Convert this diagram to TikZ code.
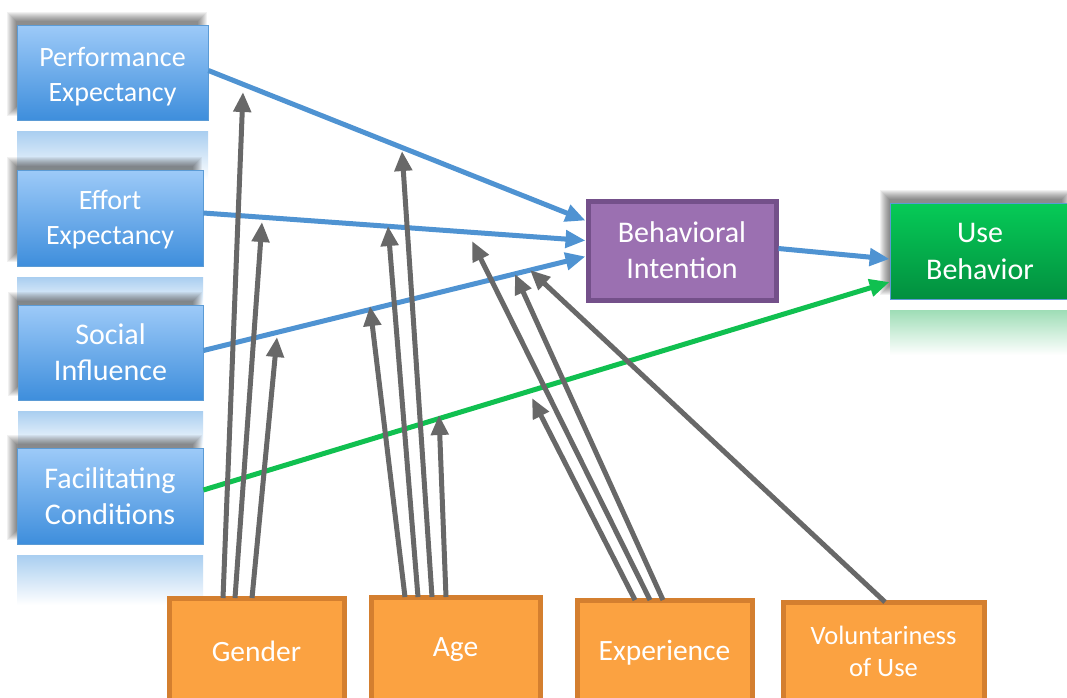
\documentclass[tikz,border=0pt]{standalone}
\usepackage{fontspec}
\setmainfont{Carlito}
\usetikzlibrary{arrows.meta,backgrounds}
\definecolor{bluetop}{HTML}{9DCAF8}
\definecolor{bluebot}{HTML}{3E8EDC}
\definecolor{blueedge}{HTML}{5B9BD5}
\definecolor{bluearrow}{HTML}{4F93D2}
\definecolor{grayarrow}{HTML}{686868}
\definecolor{greenarrow}{HTML}{10C050}
\definecolor{purplefill}{HTML}{9B70B1}
\definecolor{purpleedge}{HTML}{74508A}
\definecolor{orangefill}{HTML}{FBA241}
\definecolor{orangeedge}{HTML}{D47F2F}
\definecolor{greentop}{HTML}{06CB57}
\definecolor{greenbot}{HTML}{028F3F}
\definecolor{reflblue}{HTML}{A9CEF0}
\definecolor{reflgreen}{HTML}{9EDDB6}
\newcommand\myshadow[4]{%
  \foreach \k in {0,...,9}{%
    \fill[black,opacity=0.055] (#1+\k-4,#2+\k-4) rectangle (#3-\k+4,#4-\k+4);}}
\newcommand\shiftline[2]{\raisebox{#1}[\height][\depth]{#2}}
\begin{document}
\begin{tikzpicture}[x=1pt,y=-1pt,
  bluebox/.style={draw=blueedge,line width=0.8pt,top color=bluetop,bottom color=bluebot,
    text=white,align=center,inner sep=0pt,font=\fontsize{30}{36}\selectfont},
  orangebox/.style={draw=orangeedge,line width=5pt,fill=orangefill,text=white,align=center,
    inner sep=0pt,minimum height=105pt,font=\fontsize{29.5}{32}\selectfont},
  blueline/.style={draw=bluearrow,line width=5pt,-{Triangle[length=20pt,width=17pt]}},
  greenline/.style={draw=greenarrow,line width=5pt,-{Triangle[length=20pt,width=17pt]}},
  grayline/.style={draw=grayarrow,line width=5pt,-{Triangle[length=20pt,width=17pt]}},
  refl/.style={top color=#1,bottom color=white,draw=none}
]
\useasboundingbox (0,0) rectangle (1067,697);
\fill[white] (0,0) rectangle (1067,697);

% reflections
\shade[refl=reflblue] (17,131) rectangle (208,180);
\shade[refl=reflblue] (17,277) rectangle (203,310);
\shade[refl=reflblue] (18,411) rectangle (203,450);
\shade[refl=reflblue] (17,555) rectangle (203,605);
\shade[refl=reflgreen] (890,310) rectangle (1067,355);

% shadows
\myshadow{11}{16}{203}{112}
\myshadow{11}{161}{198}{258}
\myshadow{12}{296}{198}{392}
\myshadow{11}{439}{198}{536}
\myshadow{884}{194}{1067}{291}

% nodes
\node[bluebox,minimum width=191pt,minimum height=95pt,font=\fontsize{28}{35}\selectfont] (pe) at (112.5,72.5) {\shiftline{-4pt}{Performance}\\\shiftline{-4pt}{Expectancy}};
\node[bluebox,minimum width=186pt,minimum height=96pt,font=\fontsize{28}{35}\selectfont] (ee) at (110,218) {\shiftline{-2pt}{Effort}\\\shiftline{-2pt}{Expectancy}};
\node[bluebox,minimum width=185pt,minimum height=95pt] (si) at (110.5,352.5) {Social\\Influence};
\node[bluebox,minimum width=186pt,minimum height=96pt] (fc) at (110,496) {Facilitating\\Conditions};

\node[draw=purpleedge,line width=5pt,fill=purplefill,text=white,align=center,inner sep=0pt,
  minimum width=188pt,minimum height=99pt,font=\fontsize{30}{36}\selectfont] (bi) at (682,250.5) {Behavioral\\Intention};
\node[draw=blueedge,line width=0.8pt,top color=greentop,bottom color=greenbot,text=white,align=center,
  inner sep=0pt,minimum width=180pt,minimum height=96pt,font=\fontsize{30}{37}\selectfont] (ub) at (980,251) {Use\\Behavior};

\node[orangebox,minimum width=175pt] (gen) at (256.5,651) {Gender};
\node[orangebox,minimum width=169pt] (age) at (455.5,650) {Age};
\node[orangebox,minimum width=175pt] (exp) at (664.5,653) {Experience};
\node[orangebox,minimum width=201pt,font=\fontsize{26.5}{32}\selectfont] (vol) at (883.5,655) {\shiftline{4pt}{Voluntariness}\\\shiftline{4pt}{of Use}};

% blue and green connectors
\draw[blueline] ([yshift=2pt]pe.east) -- ([yshift=30pt]bi.west);
\draw[blueline] ([yshift=5pt]ee.east) -- ([yshift=10pt]bi.west);
\draw[blueline] ([yshift=2pt]si.east) -- ([yshift=-6pt]bi.west);
\draw[blueline] ([yshift=2pt]bi.east) -- ([yshift=-8pt]ub.west);
\draw[greenline] ([yshift=6pt]fc.east) -- ([yshift=-31pt]ub.west);

% moderator target points on the paths
\coordinate (t1) at (243,92);
\coordinate (t2) at (262,222);
\coordinate (t3) at (277,337);
\coordinate (t4) at (370,306);
\coordinate (t5) at (388,226);
\coordinate (t6) at (402,151);
\coordinate (t7) at (439,415);
\coordinate (t8) at (532,398);
\coordinate (t9) at (472,241);
\coordinate (t10) at (515,274);
\coordinate (t11) at (530,270);

% gray connectors
\draw[grayline] ([xshift=-33.5pt,yshift=-2pt]gen.north) -- (t1);
\draw[grayline] ([xshift=-21.5pt,yshift=-2pt]gen.north) -- (t2);
\draw[grayline] ([xshift=-4.5pt,yshift=-2pt]gen.north) -- (t3);
\draw[grayline] ([xshift=-50.5pt,yshift=-2pt]age.north) -- (t4);
\draw[grayline] ([xshift=-37.5pt,yshift=-2pt]age.north) -- (t5);
\draw[grayline] ([xshift=-23.5pt,yshift=-2pt]age.north) -- (t6);
\draw[grayline] ([xshift=-9.5pt,yshift=-2pt]age.north) -- (t7);
\draw[grayline] ([xshift=-29.5pt,yshift=-2pt]exp.north) -- (t8);
\draw[grayline] ([xshift=-14.5pt,yshift=-2pt]exp.north) -- (t9);
\draw[grayline] ([xshift=-1.5pt,yshift=-2pt]exp.north) -- (t10);
\draw[grayline] ([xshift=1.5pt,yshift=-2pt]vol.north) -- (t11);
\end{tikzpicture}
\end{document}
